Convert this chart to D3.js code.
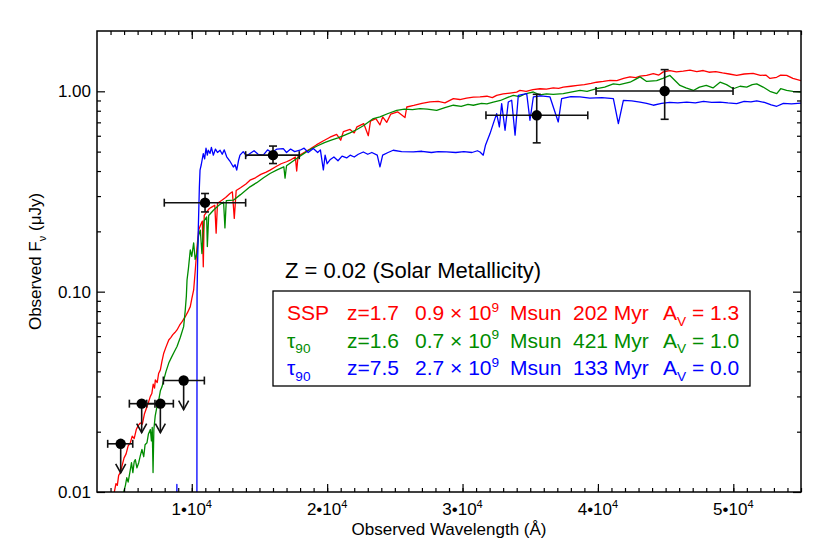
<!DOCTYPE html>
<html>
<head>
<meta charset="utf-8">
<script src="https://cdn.jsdelivr.net/npm/d3@7"></script>
<style>
  body { margin: 0; background: #fff; }
  svg { display: block; font-family: "Liberation Sans", Arial, Helvetica, sans-serif; }
</style>
</head>
<body>
<svg id="chart" width="830" height="554"></svg>
<script>
// ---- data (wavelength in Å, flux in μJy) ----
const sspSpectrum = [
  [4200, 0.0094], [4280, 0.0100], [4400, 0.0110], [4500, 0.0108], [4600, 0.0121], [4720, 0.0125],
  [4850, 0.0135], [5000, 0.0148], [5150, 0.0155], [5300, 0.0170], [5460, 0.0176], [5600, 0.0190],
  [5750, 0.0185], [5900, 0.0205], [6050, 0.0215], [6200, 0.0221], [6350, 0.0218], [6500, 0.0245],
  [6650, 0.0262], [6800, 0.0280], [6940, 0.0300], [7050, 0.0310], [7150, 0.0345], [7250, 0.0330],
  [7310, 0.0363], [7450, 0.0352], [7550, 0.0390], [7680, 0.0407], [7800, 0.0450], [7930, 0.0493],
  [8100, 0.0530], [8300, 0.0574], [8450, 0.0590], [8600, 0.0610], [8750, 0.0625], [8910, 0.0644],
  [9100, 0.0680], [9300, 0.0710], [9520, 0.0750], [9700, 0.0790], [9890, 0.0842], [10000, 0.0920],
  [10140, 0.1020], [10260, 0.1283], [10390, 0.1676], [10510, 0.2030], [10650, 0.2150], [10780, 0.2250],
  [10850, 0.1330], [10920, 0.2400], [11100, 0.2500], [11300, 0.2600], [11500, 0.2650], [11700, 0.2700],
  [11800, 0.1960], [11900, 0.2760], [12200, 0.2850], [12500, 0.2950], [12820, 0.3090], [13000, 0.3150],
  [13140, 0.2320], [13280, 0.3200], [13600, 0.3300], [14000, 0.3450], [14300, 0.3600], [14700, 0.3700],
  [15100, 0.3850], [15500, 0.3950], [15780, 0.4040], [16200, 0.4200], [16600, 0.4350], [17000, 0.4450],
  [17260, 0.4530], [17650, 0.4700], [17750, 0.4000], [17850, 0.4750], [18300, 0.4950], [18730, 0.5150],
  [19200, 0.5400], [19700, 0.5650], [20210, 0.5900], [20700, 0.6100], [21000, 0.5700], [21200, 0.6300],
  [21690, 0.6450], [22000, 0.6200], [22200, 0.6650], [22700, 0.6900], [23040, 0.6000], [23200, 0.7100],
  [23600, 0.7300], [23900, 0.6800], [24100, 0.7450], [24400, 0.7000], [24700, 0.7700], [25200, 0.7900],
  [25750, 0.7400], [25880, 0.8350], [26400, 0.8500], [27000, 0.8700], [27600, 0.8850], [28200, 0.8900],
  [28700, 0.8750], [29320, 0.9200], [29800, 0.9100], [30300, 0.9250], [30800, 0.9350], [31290, 0.9370],
  [31800, 0.9450], [32200, 0.9300], [32520, 0.9550], [33000, 0.9700], [33500, 0.9800], [34000, 0.9900],
  [34240, 1.0100], [34700, 1.0000], [35200, 1.0200], [35720, 1.0300], [36200, 1.0250], [36700, 1.0400],
  [37100, 1.0350], [37440, 1.0500], [38000, 1.0600], [38500, 1.0700], [39000, 1.0800], [39500, 1.0950],
  [39910, 1.1100], [40400, 1.1200], [40900, 1.1350], [41400, 1.1300], [41900, 1.1600], [42370, 1.1800],
  [42800, 1.1700], [43110, 1.1900], [43600, 1.2000], [44090, 1.2250], [44500, 1.2050], [44830, 1.2500],
  [45320, 1.2700], [45800, 1.2500], [46300, 1.2600], [46800, 1.2750], [47300, 1.2550], [47780, 1.2700],
  [48200, 1.2450], [48700, 1.2550], [49200, 1.2350], [49700, 1.2200], [50250, 1.2000], [50800, 1.2200],
  [51460, 1.2300], [52000, 1.2000], [52400, 1.2050], [52710, 1.1600], [53200, 1.1750], [53500, 1.2050],
  [53940, 1.2000], [54400, 1.1600], [55000, 1.1300]
];

const tauSpectrumLowZ = [
  [4900, 0.0090], [4970, 0.0100], [5100, 0.0108], [5200, 0.0118], [5300, 0.0112], [5460, 0.0129],
  [5550, 0.0140], [5650, 0.0125], [5750, 0.0142], [5830, 0.0145], [5950, 0.0132], [6080, 0.0140],
  [6200, 0.0152], [6320, 0.0163], [6450, 0.0150], [6550, 0.0172], [6690, 0.0176], [6800, 0.0195],
  [6940, 0.0205], [7020, 0.0180], [7080, 0.0210], [7140, 0.0125], [7200, 0.0205], [7300, 0.0240],
  [7430, 0.0267], [7550, 0.0285], [7680, 0.0320], [7800, 0.0335], [7930, 0.0363], [8100, 0.0400],
  [8300, 0.0440], [8500, 0.0470], [8700, 0.0500], [8910, 0.0532], [9150, 0.0590], [9400, 0.0669],
  [9520, 0.0810], [9600, 0.0950], [9650, 0.1143], [9750, 0.1300], [9890, 0.1614], [10000, 0.1500],
  [10140, 0.1750], [10250, 0.1450], [10390, 0.1560], [10500, 0.1900], [10630, 0.2030], [10750, 0.1550],
  [10900, 0.2250], [11100, 0.2360], [11150, 0.1680], [11250, 0.2400], [11600, 0.2550], [12000, 0.2700],
  [12350, 0.2800], [12450, 0.2080], [12550, 0.2850], [13070, 0.2860], [13600, 0.3050], [14300, 0.3336],
  [14800, 0.3500], [15300, 0.3700], [15780, 0.3890], [16300, 0.4050], [16800, 0.4200], [16890, 0.3685],
  [17000, 0.4250], [17260, 0.4377], [17800, 0.4650], [18300, 0.4900], [18800, 0.5150], [19300, 0.5350],
  [19800, 0.5550], [20300, 0.5700], [20800, 0.5850], [21300, 0.6050], [21690, 0.6200], [22200, 0.6450],
  [22700, 0.6750], [23410, 0.7310], [23900, 0.7450], [24500, 0.7750], [25140, 0.8040], [25700, 0.8150],
  [26300, 0.8100], [26860, 0.8200], [27400, 0.8150], [28090, 0.8040], [28700, 0.8300], [29320, 0.8520],
  [29900, 0.8400], [30400, 0.8600], [30800, 0.8520], [31400, 0.8700], [31800, 0.8650], [32270, 0.8840],
  [32800, 0.9000], [33300, 0.9300], [33750, 0.9550], [34200, 0.9400], [34700, 0.9750], [35230, 0.9920],
  [35700, 0.9600], [36200, 0.9700], [36700, 0.9650], [37440, 0.9740], [38000, 0.9900], [38680, 1.0100],
  [39200, 1.0000], [39910, 1.0300], [40500, 1.0500], [41140, 1.0900], [41600, 1.0800], [42370, 1.1100],
  [42700, 1.1400], [43110, 1.1800], [43600, 1.1200], [44340, 1.1300], [44800, 1.1600], [45320, 1.2000],
  [45820, 1.1100], [46060, 1.0700], [46500, 1.0400], [47050, 1.0100], [47500, 1.0500], [48000, 1.0700],
  [48500, 1.0400], [49020, 1.1100], [49500, 1.0800], [50000, 1.0300], [50500, 1.0600], [50990, 1.0500],
  [51400, 1.0800], [51730, 1.0900], [52200, 1.0500], [52700, 1.0000], [53210, 0.9740], [53500, 1.0300],
  [53940, 1.0100], [54400, 1.0000], [55000, 0.9920]
];

const tauSpectrumHighZ = [
  [8850, 0.0010], [8900, 0.0109], [8950, 0.0010], [10370, 0.0010], [10390, 0.1000], [10480, 0.2030],
  [10560, 0.3300], [10610, 0.4040], [10700, 0.4300], [10850, 0.4890], [10950, 0.4600], [11050, 0.5200],
  [11150, 0.4800], [11220, 0.5080], [11350, 0.4900], [11450, 0.5250], [11590, 0.4800], [11750, 0.5150],
  [11900, 0.4950], [12090, 0.5080], [12250, 0.4850], [12400, 0.5100], [12580, 0.4710], [12800, 0.4500],
  [13070, 0.4190], [13200, 0.4300], [13320, 0.4040], [13450, 0.4500], [13560, 0.4800], [13800, 0.5000],
  [14050, 0.4750], [14300, 0.4890], [14600, 0.5050], [14900, 0.4850], [15280, 0.4800], [15600, 0.5100],
  [15900, 0.4950], [16300, 0.5150], [16760, 0.5180], [17000, 0.4950], [17300, 0.5150], [17600, 0.5000],
  [17990, 0.5080], [18300, 0.5200], [18600, 0.4950], [18980, 0.5180], [19300, 0.4950], [19500, 0.5100],
  [19720, 0.4050], [19850, 0.4800], [20000, 0.4350], [20210, 0.4550], [20500, 0.4700], [20800, 0.4500],
  [21100, 0.4750], [21440, 0.4650], [21700, 0.4800], [22000, 0.4700], [22300, 0.4850], [22670, 0.4980],
  [23000, 0.4850], [23300, 0.4950], [23700, 0.4800], [23900, 0.4200], [24100, 0.4800], [24500, 0.4950],
  [24880, 0.5080], [25500, 0.5000], [26360, 0.4980], [27000, 0.5020], [27700, 0.4950], [28200, 0.5000],
  [28820, 0.4980], [29500, 0.4950], [30100, 0.5000], [30700, 0.4950], [31100, 0.5050], [31290, 0.4980],
  [31530, 0.4800], [31700, 0.5400], [32030, 0.6150], [32300, 0.7000], [32520, 0.7740], [32720, 0.6640],
  [32890, 0.8680], [33140, 0.6390], [33380, 0.8840], [33630, 0.9020], [33880, 0.6040], [34120, 0.9550],
  [34740, 0.9740], [34980, 0.7170], [35230, 0.9370], [35800, 0.9500], [36460, 0.9370], [37070, 0.7030],
  [37320, 0.9200], [38000, 0.9400], [38680, 0.9370], [39400, 0.9250], [40300, 0.9300], [41140, 0.9200],
  [41510, 0.6900], [41880, 0.9020], [42500, 0.8950], [43110, 0.8840], [43600, 0.8700], [44090, 0.8520],
  [44700, 0.8700], [45300, 0.8800], [45900, 0.8750], [46560, 0.8840], [47200, 0.8750], [47800, 0.8900],
  [48400, 0.8800], [49020, 0.8840], [49600, 0.8750], [50250, 0.8680], [50800, 0.8900], [51300, 0.8850],
  [51730, 0.8950], [52300, 0.8800], [52800, 0.8550], [53210, 0.8420], [53700, 0.8700], [54300, 0.8650],
  [55000, 0.8740]
];

// photometry
const photWave   = [4750, 6300, 7680, 9400, 10980, 16000, 35480, 44930];
const photWaveLo = [3790, 5390, 6670, 7900, 7970, 13980, 31730, 39860];
const photWaveHi = [5640, 7280, 8640, 10930, 13980, 17940, 39250, 49980];
const photFlux   = [0.0174, 0.0276, 0.0276, 0.036, 0.278, 0.48, 0.759, 1.003];
const photFluxLo = [null, null, null, null, 0.250, 0.436, 0.553, 0.725];
const photFluxHi = [null, null, null, null, 0.309, 0.533, 0.966, 1.283];
const photUpper  = [true, true, true, true, false, false, false, false];

// axes
const xMajorTicks = [10000, 20000, 30000, 40000, 50000];
const xMajorMantissa = ["1", "2", "3", "4", "5"];
const xMinorTicks = d3.range(4000, 55001, 1000);
const yMajorTicks = [0.01, 0.1, 1];
const yMajorLabels = ["0.01", "0.10", "1.00"];
const yMinorTicks = [0.02, 0.03, 0.04, 0.05, 0.06, 0.07, 0.08, 0.09, 0.2, 0.3, 0.4, 0.5, 0.6, 0.7, 0.8, 0.9];

// legend
const modelNames = ["SSP", "τ", "τ"];
const modelNameSub = ["", "90", "90"];
const modelRedshift = ["1.7", "1.6", "7.5"];
const modelMass = ["0.9", "0.7", "2.7"];
const modelAge = ["202", "421", "133"];
const modelAv = ["1.3", "1.0", "0.0"];
const modelColors = ["#ff0000", "#008c00", "#0000ff"];

// ---- drawing ----
const svg = d3.select("#chart");
const plot = { left: 97, right: 801, top: 31, bottom: 492 };

const x = d3.scaleLinear().domain([3000, 55000]).range([plot.left, plot.right]);
const y = d3.scaleLog().domain([0.01, 2]).range([plot.bottom, plot.top]);

svg.append("defs").append("clipPath").attr("id", "clip")
  .append("rect")
  .attr("x", plot.left).attr("y", plot.top)
  .attr("width", plot.right - plot.left).attr("height", plot.bottom - plot.top);

// spectra
const line = d3.line().x(d => x(d[0])).y(d => y(d[1]));
const spectra = [sspSpectrum, tauSpectrumLowZ, tauSpectrumHighZ];
const gSpec = svg.append("g").attr("clip-path", "url(#clip)");
spectra.forEach((s, i) => {
  gSpec.append("path")
    .attr("d", line(s))
    .attr("fill", "none")
    .attr("stroke", modelColors[i])
    .attr("stroke-width", 1.3)
    .attr("stroke-linejoin", "round");
});

// photometry points
const gPhot = svg.append("g").attr("stroke", "#111").attr("stroke-width", 1.6).attr("fill", "none");
photWave.forEach((w, i) => {
  const cx = x(w), cy = y(photFlux[i]);
  const x0 = x(photWaveLo[i]), x1 = x(photWaveHi[i]);
  gPhot.append("line").attr("x1", x0).attr("x2", x1).attr("y1", cy).attr("y2", cy);
  gPhot.append("line").attr("x1", x0).attr("x2", x0).attr("y1", cy - 4).attr("y2", cy + 4);
  gPhot.append("line").attr("x1", x1).attr("x2", x1).attr("y1", cy - 4).attr("y2", cy + 4);
  if (photUpper[i]) {
    gPhot.append("line").attr("x1", cx).attr("x2", cx).attr("y1", cy).attr("y2", cy + 29);
    gPhot.append("polyline")
      .attr("points", [[cx - 5, cy + 20], [cx, cy + 29], [cx + 5, cy + 20]].join(" "));
  } else {
    const y0 = y(photFluxLo[i]), y1 = y(photFluxHi[i]);
    gPhot.append("line").attr("x1", cx).attr("x2", cx).attr("y1", y0).attr("y2", y1);
    gPhot.append("line").attr("x1", cx - 4).attr("x2", cx + 4).attr("y1", y0).attr("y2", y0);
    gPhot.append("line").attr("x1", cx - 4).attr("x2", cx + 4).attr("y1", y1).attr("y2", y1);
  }
  gPhot.append("circle").attr("cx", cx).attr("cy", cy).attr("r", 5.2)
    .attr("fill", "#000").attr("stroke", "none");
});

// ticks (inward on all four sides)
const tickAxis = (axis, transform) => {
  const g = svg.append("g").attr("transform", transform).call(axis);
  g.select(".domain").remove();
  g.selectAll("line").attr("stroke", "#000").attr("stroke-width", 1.2);
  g.selectAll("text").remove();
};
tickAxis(d3.axisBottom(x).tickValues(xMinorTicks).tickSize(-4), `translate(0,${plot.bottom})`);
tickAxis(d3.axisBottom(x).tickValues(xMajorTicks).tickSize(-8), `translate(0,${plot.bottom})`);
tickAxis(d3.axisTop(x).tickValues(xMinorTicks).tickSize(-4), `translate(0,${plot.top})`);
tickAxis(d3.axisTop(x).tickValues(xMajorTicks).tickSize(-8), `translate(0,${plot.top})`);
tickAxis(d3.axisLeft(y).tickValues(yMinorTicks).tickSize(-4), `translate(${plot.left},0)`);
tickAxis(d3.axisLeft(y).tickValues(yMajorTicks).tickSize(-8), `translate(${plot.left},0)`);
tickAxis(d3.axisRight(y).tickValues(yMinorTicks).tickSize(-4), `translate(${plot.right},0)`);
tickAxis(d3.axisRight(y).tickValues(yMajorTicks).tickSize(-8), `translate(${plot.right},0)`);

// frame
svg.append("rect")
  .attr("x", plot.left).attr("y", plot.top)
  .attr("width", plot.right - plot.left).attr("height", plot.bottom - plot.top)
  .attr("fill", "none").attr("stroke", "#000").attr("stroke-width", 1.5);

// rich text helper: parts = [[string, "sup"|"sub"|undefined], ...]
function richText(g, px, py, parts, size, color, anchor) {
  const t = g.append("text")
    .attr("x", px).attr("y", py)
    .attr("font-size", size).attr("fill", color)
    .attr("text-anchor", anchor || "start");
  let shift = 0;
  parts.forEach(([s, mode]) => {
    const target = mode === "sup" ? -0.4 * size : mode === "sub" ? 0.28 * size : 0;
    t.append("tspan")
      .attr("dy", target - shift)
      .attr("font-size", mode ? size * 0.65 : size)
      .text(s);
    shift = target;
  });
  return t;
}

// tick labels
xMajorTicks.forEach((v, i) => {
  richText(svg, x(v), 515, [[xMajorMantissa[i] + "•10"], ["4", "sup"]], 17, "#000", "middle");
});
yMajorTicks.forEach((v, i) => {
  svg.append("text").attr("x", 91).attr("y", y(v) + 6)
    .attr("text-anchor", "end").attr("font-size", 17).text(yMajorLabels[i]);
});

// axis titles
richText(svg, (plot.left + plot.right) / 2, 534.5, [["Observed Wavelength (Å)"]], 17, "#000", "middle");
const yTitle = svg.append("g")
  .attr("transform", `translate(41,${(plot.top + plot.bottom) / 2}) rotate(-90)`);
richText(yTitle, 0, 0, [["Observed F"], ["ν", "sub"], [" (μJy)"]], 17, "#000", "middle");

// annotation + legend
svg.append("text").attr("x", 285).attr("y", 278).attr("font-size", 22).attr("fill", "#000")
  .text("Z = 0.02 (Solar Metallicity)");

svg.append("rect")
  .attr("x", 273).attr("y", 291).attr("width", 477).attr("height", 95)
  .attr("fill", "#fff").attr("stroke", "#000").attr("stroke-width", 1.3);

const rowY = [320, 347.5, 375];
const gLeg = svg.append("g");
modelNames.forEach((name, i) => {
  const c = modelColors[i], fy = rowY[i], fs = 21;
  richText(gLeg, 287, fy, modelNameSub[i] ? [[name], [modelNameSub[i], "sub"]] : [[name]], fs, c);
  richText(gLeg, 347, fy, [["z=" + modelRedshift[i]]], fs, c);
  richText(gLeg, 415, fy, [[modelMass[i] + " × 10"], ["9", "sup"]], fs, c);
  richText(gLeg, 510, fy, [["Msun"]], fs, c);
  richText(gLeg, 573, fy, [[modelAge[i] + " Myr"]], fs, c);
  richText(gLeg, 663, fy, [["A"], ["V", "sub"], [" = " + modelAv[i]]], fs, c);
});
</script>
</body>
</html>
